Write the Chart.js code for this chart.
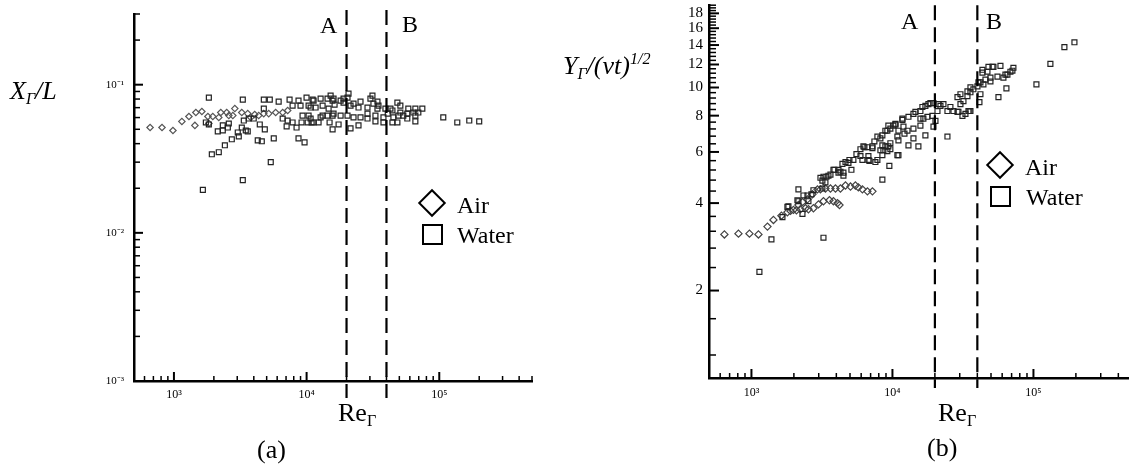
<!DOCTYPE html>
<html>
<head>
<meta charset="utf-8">
<script src="https://cdn.jsdelivr.net/npm/chart.js@4/dist/chart.umd.min.js"></script>
<style>
html,body{margin:0;padding:0;background:#fff;overflow:hidden;width:1129px;height:475px;}
#wrap{position:relative;width:1129px;height:475px;overflow:hidden;background:#fff;}
canvas{position:absolute;top:0;}
.t{position:absolute;font-family:"Liberation Serif","Times New Roman",serif;line-height:1;white-space:nowrap;color:#000;z-index:5;}
.sub{font-size:0.62em;position:relative;top:0.3em;}
.sup{font-size:0.62em;position:relative;top:-0.6em;}
.dia{position:absolute;width:16px;height:16px;border:2px solid #000;transform:rotate(45deg);z-index:5;}
.sq{position:absolute;width:17px;height:17px;border:2px solid #000;z-index:5;}
</style>
</head>
<body>
<div id="wrap">
  <canvas id="ca" width="560" height="475" style="left:0;"></canvas>
  <canvas id="cb" width="580" height="475" style="left:560px;"></canvas>

  <div class="t" style="left:10px;top:78px;font-size:26px;font-style:italic;">X<span class="sub">Γ</span>/L</div>
  <div class="t" style="left:338px;top:400px;font-size:26px;">Re<span class="sub">Γ</span></div>
  <div class="t" style="left:257px;top:437px;font-size:26px;">(a)</div>
  <div class="t" style="left:320px;top:13px;font-size:24px;">A</div>
  <div class="t" style="left:402px;top:12px;font-size:24px;">B</div>
  <div class="dia" style="left:422px;top:193px;"></div>
  <div class="t" style="left:457px;top:193px;font-size:24px;">Air</div>
  <div class="sq" style="left:422px;top:224px;"></div>
  <div class="t" style="left:457px;top:223px;font-size:24px;">Water</div>

  <div class="t" style="left:563px;top:53px;font-size:26px;font-style:italic;">Y<span class="sub">Γ</span>/(νt)<span class="sup">1/2</span></div>
  <div class="t" style="left:938px;top:400px;font-size:26px;">Re<span class="sub">Γ</span></div>
  <div class="t" style="left:927px;top:435px;font-size:26px;">(b)</div>
  <div class="t" style="left:901px;top:9px;font-size:24px;">A</div>
  <div class="t" style="left:986px;top:9px;font-size:24px;">B</div>
  <div class="dia" style="left:990px;top:155px;"></div>
  <div class="t" style="left:1025px;top:155px;font-size:24px;">Air</div>
  <div class="sq" style="left:990px;top:186px;"></div>
  <div class="t" style="left:1026px;top:185px;font-size:24px;">Water</div>
</div>
<script>
// ---------- data ----------
const xRange = [500, 5e5];
const xTickValues = [1e3, 1e4, 1e5];
const xTickLabels = ['10³', '10⁴', '10⁵'];
const regionBounds = [2e4, 4e4];   // lines A and B

// panel (a): X_Γ/L
const yRangeA = [1e-3, 0.3];
const yTickValuesA = [1e-3, 1e-2, 1e-1];
const yTickLabelsA = ['10⁻³', '10⁻²', '10⁻¹'];

const airA_Re = [661, 813, 983, 1148, 1297, 1463, 1624, 1439, 1803, 1834, 1963, 2178, 2255, 2500, 2592, 2876, 2778, 3246, 3599, 3793, 4064, 4355, 4750, 5180, 5845, 6604, 7200];
const airA_X = [0.0514, 0.0514, 0.0491, 0.0565, 0.0610, 0.0649, 0.0659, 0.0531, 0.0610, 0.0547, 0.0610, 0.0601, 0.0649, 0.0649, 0.0619, 0.0690, 0.0619, 0.0649, 0.0638, 0.0601, 0.0629, 0.0619, 0.0638, 0.0638, 0.0649, 0.0649, 0.0670];

const waterA_Re = [1833, 3304, 4758, 5277, 6157, 7440, 8690, 9990, 11100, 12750,
 14380, 15700, 1740, 1833, 2140, 2335, 2335, 2591, 2548, 3027,
 3081, 3247, 3479, 3600, 3362, 3663, 3994, 4436, 4841, 4758,
 4283, 4594, 5655, 8690, 9650, 2420, 2730, 2178, 1930, 5368,
 1652, 3304, 6600, 7190, 7070, 7840, 8400, 9320, 9160, 10350,
 10910, 12310, 13200, 14900, 15700, 7840, 9000, 10350, 11690, 13200,
 14650, 16250, 15170, 20700, 31360, 48340, 74530, 107200, 136700, 168300,
 200000, 15700, 21430, 24620, 17420, 48340, 66050, 57420, 66050, 53600,
 58440, 66050, 50910, 34200, 30280, 25490, 22580, 18040, 15970, 11290,
 10720, 37960, 37960, 44360, 33030, 28770, 25490, 22580, 20340, 18040,
 15970, 14380, 12750, 11290, 10186, 18990, 21430, 24620, 28770, 34200,
 39280, 42850, 20340, 18990, 31900, 34820, 49170, 57420, 50910, 44360,
 45110, 69540, 63800, 10720, 28770, 33030, 40900];
const waterA_X = [0.0818, 0.0793, 0.0793, 0.0793, 0.0769, 0.0793, 0.0781, 0.0818, 0.0793, 0.0805,
 0.0805, 0.0781, 0.0556, 0.0539, 0.0484, 0.0491, 0.0531, 0.0547, 0.0514, 0.0476,
 0.0448, 0.0514, 0.0491, 0.0484, 0.0573, 0.0591, 0.0591, 0.0539, 0.0499, 0.0690,
 0.0421, 0.0415, 0.0434, 0.0434, 0.0408, 0.0390, 0.0428, 0.0350, 0.0339, 0.0300,
 0.0195, 0.0227, 0.0591, 0.0573, 0.0523, 0.0556, 0.0514, 0.0619, 0.0556, 0.0619,
 0.0556, 0.0556, 0.0619, 0.0556, 0.0619, 0.0723, 0.0723, 0.0723, 0.0701, 0.0723,
 0.0690, 0.0734, 0.0844, 0.0870, 0.0844, 0.0757, 0.0690, 0.0601, 0.0556, 0.0573,
 0.0565, 0.0499, 0.0507, 0.0531, 0.0539, 0.0556, 0.0565, 0.0591, 0.0619, 0.0619,
 0.0690, 0.0690, 0.0723, 0.0769, 0.0805, 0.0769, 0.0745, 0.0781, 0.0805, 0.0781,
 0.0701, 0.0556, 0.0601, 0.0556, 0.0565, 0.0591, 0.0601, 0.0601, 0.0619, 0.0619,
 0.0638, 0.0619, 0.0601, 0.0556, 0.0556, 0.0757, 0.0723, 0.0701, 0.0701, 0.0690,
 0.0690, 0.0690, 0.0818, 0.0805, 0.0745, 0.0723, 0.0619, 0.0638, 0.0649, 0.0670,
 0.0601, 0.0649, 0.0649, 0.0591, 0.0638, 0.0619, 0.0638];

// panel (b): Y_Γ/(νt)^1/2
const yRangeB = [1, 19.2];
const yTickValuesB = [2, 4, 6, 8, 10, 12, 14, 16, 18];
const yTickLabelsB = ['2', '4', '6', '8', '10', '12', '14', '16', '18'];
const yMinorStepB = 0.4;

const airB_Re = [643, 809, 968, 1121, 1299, 1432, 1632, 1799, 1891, 1986, 2086, 2154, 2224, 2300, 2415, 2496, 2536, 2708, 2752, 2939, 2988, 3086, 3242, 3348, 3575, 3634, 3816, 3944, 4075, 4212, 4277, 4645, 5039, 5462, 5735, 6124, 6645, 7211];
const airB_Y = [3.12, 3.14, 3.14, 3.12, 3.32, 3.50, 3.62, 3.72, 3.76, 3.79, 3.78, 3.94, 3.81, 4.03, 3.84, 4.12, 3.81, 4.29, 3.84, 4.46, 3.96, 4.46, 4.06, 4.49, 4.09, 4.49, 4.06, 4.49, 4.00, 3.94, 4.49, 4.60, 4.56, 4.60, 4.53, 4.46, 4.39, 4.39];

const waterB_Re = [1139, 1386, 3242, 1659, 1829, 2300, 2154, 2338, 2663, 2536,
 2119, 3186, 3186, 3242, 3516, 3634, 3879, 4277, 4419, 4645,
 4875, 4955, 4492, 5117, 5554, 5930, 5930, 6327, 6755, 6866,
 7211, 7448, 7571, 8214, 8484, 8625, 8908, 9354, 9509, 9667,
 10160, 10500, 10840, 11030, 11030, 11770, 11970, 12170, 10840, 8484,
 8908, 9354, 9201, 9667, 3086, 3404, 3816, 4143, 4492, 5285,
 6225, 6645, 7211, 7821, 8484, 9201, 10500, 11770, 12990, 14090,
 15790, 17130, 18590, 19540, 6124, 6755, 7821, 8484, 8214, 9667,
 11030, 12990, 14090, 12780, 14090, 15790, 16580, 19210, 20860, 21900,
 23000, 24550, 27090, 29390, 31360, 32950, 34600, 30360, 31890, 34040,
 35740, 37510, 40060, 42080, 45670, 49550, 55560, 63280, 68660, 72100,
 43470, 47960, 52030, 58340, 42080, 41400, 56470, 64320, 35170, 24550,
 19540, 20190, 17700, 15790, 165800, 195300, 131900, 105000, 17130, 15280,
 14550, 16310, 17990, 21210, 25770, 28920, 35740, 65380, 70930, 61250,
 49550, 44190, 40730, 35740, 34040, 30360, 28920, 47180, 43470, 51190,
 1799, 2154, 2496, 3348, 2752, 4143];
const waterB_Y = [2.32, 3.00, 3.04, 3.58, 3.90, 3.67, 4.46, 4.25, 4.29, 4.06,
 4.09, 4.49, 4.78, 4.93, 4.97, 5.01, 5.21, 5.13, 5.46, 5.54,
 5.50, 5.63, 4.97, 5.21, 5.90, 6.13, 5.81, 6.23, 5.81, 5.59,
 6.27, 6.52, 5.54, 6.68, 6.32, 6.08, 7.10, 7.39, 5.37, 7.22,
 7.39, 7.50, 6.78, 6.58, 7.10, 7.74, 7.33, 6.94, 5.85, 4.82,
 6.27, 6.27, 6.04, 6.13, 4.89, 4.93, 5.21, 5.21, 5.09, 5.63,
 6.27, 6.23, 6.18, 6.78, 6.84, 7.10, 7.45, 7.81, 7.93, 8.11,
 8.30, 8.64, 8.84, 8.84, 5.63, 5.63, 5.63, 5.85, 6.08, 6.43,
 5.85, 6.32, 6.68, 7.10, 7.22, 7.39, 7.81, 7.99, 8.30, 8.64,
 8.77, 8.30, 8.30, 8.24, 7.99, 8.11, 8.30, 8.77, 8.98, 9.33,
 9.63, 9.86, 10.09, 10.41, 10.65, 10.82, 10.90, 11.07, 11.33, 11.69,
 11.51, 11.78, 11.78, 11.87, 9.48, 8.91, 9.26, 9.93, 8.30, 6.78,
 7.33, 7.68, 7.93, 7.81, 13.77, 14.31, 12.06, 10.25, 6.84, 6.27,
 8.24, 8.57, 8.77, 8.77, 8.57, 8.24, 8.30, 11.07, 11.42, 10.82,
 10.49, 10.25, 10.41, 10.01, 9.70, 9.48, 9.26, 11.33, 11.25, 11.78,
 3.88, 4.06, 4.25, 4.71, 4.43, 5.09];

// ---------- helpers ----------
const zip = (xs, ys) => xs.map((x, i) => ({x, y: ys[i]}));

function logMinors(min, max, majors) {
  const out = [];
  for (let k = Math.floor(Math.log10(min)) - 1; k <= Math.ceil(Math.log10(max)); k++) {
    for (let m = 1; m <= 9; m++) {
      const v = parseFloat((m * Math.pow(10, k)).toPrecision(6));
      if (v >= min * 0.9999 && v <= max * 1.0001 && !majors.some(t => Math.abs(t - v) / t < 1e-6)) out.push(v);
    }
  }
  return out;
}
function stepMinors(min, max, step, majors) {
  const out = [];
  for (let k = 1; k * step <= max + 1e-9; k++) {
    const v = parseFloat((k * step).toFixed(6));
    if (v > min && !majors.some(t => Math.abs(t - v) < 1e-6)) out.push(v);
  }
  return out;
}

const decor = {
  id: 'decor',
  afterDatasetsDraw(chart, args, o) {
    const {ctx, chartArea: ca, scales: {x, y}} = chart;
    ctx.save();
    ctx.strokeStyle = '#000';
    ctx.lineCap = 'butt';
    const tickX = (v, len, w) => {
      const p = x.getPixelForValue(v);
      if (p < ca.left - 0.5 || p > ca.right + 0.5) return;
      ctx.lineWidth = w; ctx.beginPath(); ctx.moveTo(p, ca.bottom); ctx.lineTo(p, ca.bottom - len); ctx.stroke();
    };
    const tickY = (v, len, w) => {
      const p = y.getPixelForValue(v);
      if (p < ca.top - 0.5 || p > ca.bottom + 0.5) return;
      ctx.lineWidth = w; ctx.beginPath(); ctx.moveTo(ca.left, p); ctx.lineTo(ca.left + len, p); ctx.stroke();
    };
    o.xMinor.forEach(v => tickX(v, o.xMinLen, 1.5));
    o.xMajor.forEach(v => tickX(v, o.xMajLen, 2));
    o.yMinor.forEach(v => tickY(v, o.yMinLen, 1.5));
    o.yMajor.forEach(v => tickY(v, o.yMajLen, 2));
    // region boundaries A and B
    ctx.setLineDash([15, 7]);
    ctx.lineWidth = 2.2;
    regionBounds.forEach(v => {
      const p = x.getPixelForValue(v);
      ctx.beginPath(); ctx.moveTo(p, ca.top + o.dashTop); ctx.lineTo(p, ca.bottom + o.dashBelow); ctx.stroke();
    });
    ctx.restore();
  }
};

function makeChart(id, cfg) {
  return new Chart(document.getElementById(id), {
    type: 'scatter',
    data: {
      datasets: [
        {label: 'Water', data: zip(cfg.waterX, cfg.waterY), pointStyle: 'rect', pointRadius: cfg.sqR,
         borderColor: '#222', backgroundColor: 'rgba(0,0,0,0)', borderWidth: 1.2},
        {label: 'Air', data: zip(cfg.airX, cfg.airY), pointStyle: 'rectRot', pointRadius: cfg.diaR,
         borderColor: cfg.airColor, backgroundColor: 'rgba(0,0,0,0)', borderWidth: 1.2}
      ]
    },
    options: {
      responsive: false, animation: false, devicePixelRatio: 1,
      layout: {padding: cfg.padding},
      plugins: {legend: {display: false}, tooltip: {enabled: false}, decor: cfg.decor},
      scales: {
        x: {
          type: 'logarithmic', position: 'bottom', min: xRange[0], max: xRange[1], bounds: 'data',
          grid: {display: false, drawTicks: false},
          border: {display: true, color: '#000', width: 2.5},
          afterBuildTicks: s => { s.ticks = xTickValues.map(v => ({value: v})); },
          afterFit: s => { s.height = cfg.xH; s.paddingLeft = 0; s.paddingRight = 0; },
          ticks: {autoSkip: false, maxRotation: 0, padding: cfg.xPad, color: '#000',
                  font: {family: 'Liberation Serif', size: 12},
                  callback: (v, i) => xTickLabels[i]}
        },
        y: {
          type: 'logarithmic', position: 'left', min: cfg.yRange[0], max: cfg.yRange[1], bounds: 'data',
          grid: {display: false, drawTicks: false},
          border: {display: true, color: '#000', width: 2.5},
          afterBuildTicks: s => { s.ticks = cfg.yTicks.map(v => ({value: v})); },
          afterFit: s => { s.width = cfg.yW; s.paddingTop = 0; s.paddingBottom = 0; },
          ticks: {autoSkip: false, padding: cfg.yPad, color: '#000',
                  font: {family: 'Liberation Serif', size: cfg.yFont},
                  callback: (v, i) => cfg.yLabels[i]}
        }
      }
    },
    plugins: [decor]
  });
}

makeChart('ca', {
  waterX: waterA_Re, waterY: waterA_X, airX: airA_Re, airY: airA_X,
  sqR: 3.5, diaR: 3.2, airColor: '#555',
  padding: {left: 0, top: 14, right: 28, bottom: 0},
  xH: 94, yW: 134, xPad: 7, yPad: 10, yFont: 11,
  yRange: yRangeA, yTicks: yTickValuesA, yLabels: yTickLabelsA,
  decor: {
    xMajor: xTickValues, xMinor: logMinors(xRange[0], xRange[1], xTickValues),
    yMajor: yTickValuesA, yMinor: logMinors(yRangeA[0], yRangeA[1], yTickValuesA),
    xMajLen: 9, xMinLen: 5, yMajLen: 9, yMinLen: 6, dashTop: -4, dashBelow: 17
  }
});

makeChart('cb', {
  waterX: waterB_Re, waterY: waterB_Y, airX: airB_Re, airY: airB_Y,
  sqR: 3.5, diaR: 3.6, airColor: '#444',
  padding: {left: 0, top: 0, right: 8, bottom: 0},
  xH: 97, yW: 149, xPad: 8, yPad: 6, yFont: 15,
  yRange: yRangeB, yTicks: yTickValuesB, yLabels: yTickLabelsB,
  decor: {
    xMajor: xTickValues, xMinor: logMinors(xRange[0], xRange[1], xTickValues),
    yMajor: yTickValuesB, yMinor: stepMinors(yRangeB[0], yRangeB[1], yMinorStepB, yTickValuesB),
    xMajLen: 9, xMinLen: 5, yMajLen: 10, yMinLen: 7, dashTop: 0, dashBelow: 10
  }
});
</script>
</body>
</html>
